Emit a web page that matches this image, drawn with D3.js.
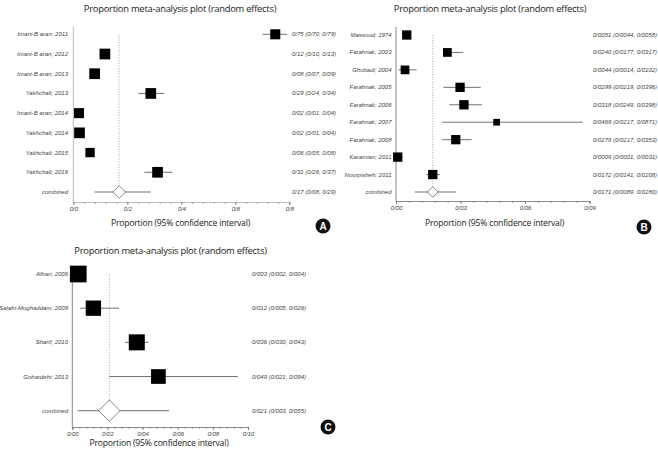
<!DOCTYPE html>
<html>
<head>
<meta charset="utf-8">
<script src="https://cdn.jsdelivr.net/npm/d3@7"></script>
<style>
  body { margin: 0; background: #fff; }
  text { font-family: "Open Sans", "Noto Sans", sans-serif; }
  .lab { font-size: 6px; font-style: italic; fill: #444; font-family: "Liberation Sans", Arial, sans-serif; }
</style>
</head>
<body>
<svg id="fig" width="658" height="457"></svg>
<script>
// Données

// A
const etudesA  = ["Imani-B aran; 2011", "Imani-B aran; 2012", "Imani-B aran; 2013", "Yakhchali; 2013",
                  "Imani-B aran; 2014", "Yakhchali; 2014", "Yakhchali; 2015", "Yakhchali; 2016"];
const estA     = [0.748, 0.117, 0.079, 0.287, 0.021, 0.023, 0.062, 0.312];
const basA     = [0.701, 0.100, 0.070, 0.241, 0.010, 0.010, 0.050, 0.263];
const hautA    = [0.792, 0.130, 0.090, 0.337, 0.040, 0.040, 0.080, 0.368];
const poidsA   = [11.8, 13.4, 13.4, 13.4, 11.8, 13.4, 10.2, 13.4];
const valeursA = ["0/75 (0/70, 0/79)", "0/12 (0/10, 0/13)", "0/08 (0/07, 0/09)", "0/29 (0/24, 0/34)",
                  "0/02 (0/01, 0/04)", "0/02 (0/01, 0/04)", "0/06 (0/05, 0/08)", "0/31 (0/26, 0/37)"];
const combA    = { est: 0.170, bas: 0.078, haut: 0.287, texte: "0/17 (0/08, 0/29)" };
const ticksA   = [0, 0.2, 0.4, 0.6, 0.8];
const ticksLabA = ["0/0", "0/2", "0/4", "0/6", "0/8"];

// B
const etudesB  = ["Massoud; 1974", "Farahnak; 2003", "Ghobadi; 2004", "Farahnak; 2005", "Farahnak; 2006",
                  "Farahnak; 2007", "Farahnak; 2008", "Karamian; 2011", "Noorpisheh; 2011"];
const estB     = [0.0050, 0.0239, 0.0042, 0.0298, 0.0316, 0.0468, 0.0278, 0.0008, 0.0171];
const basB     = [0.0044, 0.0220, 0.0011, 0.0220, 0.0248, 0.0215, 0.0215, 0.0001, 0.0140];
const hautB    = [0.0058, 0.0313, 0.0096, 0.0394, 0.0399, 0.0868, 0.0352, 0.0031, 0.0205];
const poidsB   = [12.1, 10.7, 10.7, 12.1, 12.1, 6.3, 12.1, 12.1, 12.1];
const valeursB = ["0/0051 (0/0044, 0/0058)", "0/0240 (0/0177, 0/0317)", "0/0044 (0/0014, 0/0102)",
                  "0/0299 (0/0219, 0/0396)", "0/0318 (0/0249, 0/0398)", "0/0469 (0/0217, 0/0871)",
                  "0/0279 (0/0217, 0/0353)", "0/0009 (0/0001, 0/0031)", "0/0172 (0/0141, 0/0208)"];
const combB    = { est: 0.0171, bas: 0.0088, haut: 0.0279, texte: "0/0171 (0/0089, 0/0280)" };
const ticksB   = [0, 0.03, 0.06, 0.09];
const ticksLabB = ["0/00", "0/03", "0/06", "0/09"];

// C
const etudesC  = ["Alhari; 2006", "Salahi-Moghaddam; 2009", "Sharif; 2010", "Gohardehi; 2013"];
const estC     = [0.0034, 0.0120, 0.0367, 0.0490];
const basC     = [0.0020, 0.0044, 0.0300, 0.0211];
const hautC    = [0.0040, 0.0266, 0.0433, 0.0942];
const poidsC   = [28.3, 23.8, 26.0, 21.9];
const valeursC = ["0/003 (0/002, 0/004)", "0/012 (0/005, 0/026)", "0/036 (0/030, 0/043)", "0/049 (0/021, 0/094)"];
const combC    = { est: 0.0211, bas: 0.0031, haut: 0.0551, texte: "0/021 (0/003, 0/055)" };
const ticksC   = [0, 0.02, 0.04, 0.06, 0.08, 0.10];
const ticksLabC = ["0/00", "0/02", "0/04", "0/06", "0/08", "0/10"];

const TITRE = "Proportion meta-analysis plot (random effects)";
const TITRE_AXE = "Proportion (95% confidence interval)";

const svg = d3.select("#fig");

function forest(p) {
  const g = svg.append("g");
  const x = d3.scaleLinear().domain(p.domaine).range([p.x0, p.x1]);
  const lignes = p.etudes.concat(["combined"]);
  const y = d3.scalePoint().domain(lignes).range([p.yHaut, p.yBas]);
  const taille = d3.scaleSqrt().domain([0, d3.max(p.poids)]).range([0, p.tailleMax]);

  // titre
  g.append("text").attr("x", p.cx).attr("y", p.yTitre).attr("text-anchor", "middle")
    .attr("font-size", 9.4).attr("fill", "#222").attr("letter-spacing", -0.25).text(TITRE);

  // ligne verticale de l'axe
  g.append("line").attr("x1", p.x0).attr("x2", p.x0).attr("y1", p.yHaut - 8).attr("y2", p.yAxe)
    .attr("stroke", p.couleurAxe).attr("stroke-width", 1);

  // ligne pointillée de l'estimation combinée
  g.append("line").attr("x1", x(p.comb.est)).attr("x2", x(p.comb.est))
    .attr("y1", p.yHaut).attr("y2", y("combined") - p.demiLosange)
    .attr("stroke", "#888").attr("stroke-width", 0.7).attr("stroke-dasharray", "1,1.6");

  // axe du bas : majeures + mineures
  const pas = (p.ticks[1] - p.ticks[0]) / 5;
  const mineures = d3.range(0, Math.round(p.domaine[1] / pas) + 1).map(i => i * pas);
  const axeMin = g.append("g").attr("transform", `translate(0,${p.yAxe})`)
    .call(d3.axisBottom(x).tickValues(mineures).tickSize(2).tickFormat(""));
  const axeMaj = g.append("g").attr("transform", `translate(0,${p.yAxe})`)
    .call(d3.axisBottom(x).tickValues(p.ticks).tickSize(3).tickPadding(1.5)
      .tickFormat((d, i) => p.ticksLab[i]));
  [axeMin, axeMaj].forEach(a => {
    a.select(".domain").attr("stroke", p.couleurAxe).attr("stroke-width", 0.8);
    a.selectAll(".tick line").attr("stroke", "#666").attr("stroke-width", 0.6);
  });
  axeMaj.selectAll(".tick text").attr("class", "lab").attr("font-size", null).attr("font-family", null);

  g.append("text").attr("x", p.cxAxe).attr("y", p.yTitreAxe).attr("text-anchor", "middle")
    .attr("font-size", 8.6).attr("fill", "#222").attr("letter-spacing", -0.2).text(TITRE_AXE);

  // intervalles de confiance
  const donnees = p.etudes.map((e, i) => ({ e, est: p.est[i], bas: p.bas[i], haut: p.haut[i], w: p.poids[i], v: p.valeurs[i] }));
  g.selectAll(".ic").data(donnees).join("line").attr("class", "ic")
    .attr("x1", d => x(d.bas)).attr("x2", d => x(d.haut))
    .attr("y1", d => y(d.e)).attr("y2", d => y(d.e))
    .attr("stroke", "#333").attr("stroke-width", 0.7);
  g.selectAll(".carre").data(donnees).join("rect").attr("class", "carre")
    .attr("x", d => x(d.est) - taille(d.w) / 2).attr("y", d => y(d.e) - taille(d.w) / 2)
    .attr("width", d => taille(d.w)).attr("height", d => taille(d.w)).attr("fill", "#000");

  // combiné
  const yc = y("combined"), xc = x(p.comb.est), h = p.demiLosange;
  g.append("line").attr("x1", x(p.comb.bas)).attr("x2", x(p.comb.haut)).attr("y1", yc).attr("y2", yc)
    .attr("stroke", "#333").attr("stroke-width", 0.7);
  g.append("path").attr("d", `M${xc - h},${yc}L${xc},${yc - h}L${xc + h},${yc}L${xc},${yc + h}Z`)
    .attr("fill", "#fff").attr("stroke", "#555").attr("stroke-width", 0.7);

  // étiquettes
  g.selectAll(".nom").data(lignes).join("text").attr("class", "lab")
    .attr("x", p.xNoms).attr("y", d => y(d) + 2).attr("text-anchor", "end").text(d => d);
  g.selectAll(".val").data(p.valeurs.concat([p.comb.texte])).join("text").attr("class", "lab")
    .attr("x", p.xValeurs).attr("y", (d, i) => y(lignes[i]) + 2).text(d => d);

  // pastille
  g.append("circle").attr("cx", p.pastille[0]).attr("cy", p.pastille[1]).attr("r", 7.5).attr("fill", "#111");
  g.append("text").attr("x", p.pastille[0]).attr("y", p.pastille[1] + 3.6).attr("text-anchor", "middle")
    .attr("font-size", 10).attr("font-weight", "bold").attr("fill", "#fff")
    .style("font-family", "'Liberation Sans', Arial, sans-serif").text(p.lettre);
}

forest({ etudes: etudesA, est: estA, bas: basA, haut: hautA, poids: poidsA, valeurs: valeursA, comb: combA,
  ticks: ticksA, ticksLab: ticksLabA, domaine: [0, 0.8], x0: 73.3, x1: 289.3, yHaut: 34.3, yBas: 192, yAxe: 202,
  tailleMax: 10.7, demiLosange: 6.3, couleurAxe: "#bbb", cx: 180, yTitre: 11.7, cxAxe: 180.5, yTitreAxe: 225.5,
  xNoms: 68, xValeurs: 292, pastille: [323, 226], lettre: "A" });

forest({ etudes: etudesB, est: estB, bas: basB, haut: hautB, poids: poidsB, valeurs: valeursB, comb: combB,
  ticks: ticksB, ticksLab: ticksLabB, domaine: [0, 0.09], x0: 396, x1: 589.5, yHaut: 35, yBas: 192, yAxe: 201,
  tailleMax: 9.3, demiLosange: 5.3, couleurAxe: "#888", cx: 490, yTitre: 11.7, cxAxe: 494.5, yTitreAxe: 225.5,
  xNoms: 391.5, xValeurs: 593, pastille: [644, 227], lettre: "B" });

forest({ etudes: etudesC, est: estC, bas: basC, haut: hautC, poids: poidsC, valeurs: valeursC, comb: combC,
  ticks: ticksC, ticksLab: ticksLabC, domaine: [0, 0.10], x0: 72.3, x1: 248, yHaut: 274, yBas: 410.7, yAxe: 427,
  tailleMax: 16.7, demiLosange: 10.7, couleurAxe: "#888", cx: 170.5, yTitre: 254, cxAxe: 159, yTitreAxe: 445.5,
  xNoms: 68, xValeurs: 252, pastille: [328, 427], lettre: "C" });
</script>
</body>
</html>
